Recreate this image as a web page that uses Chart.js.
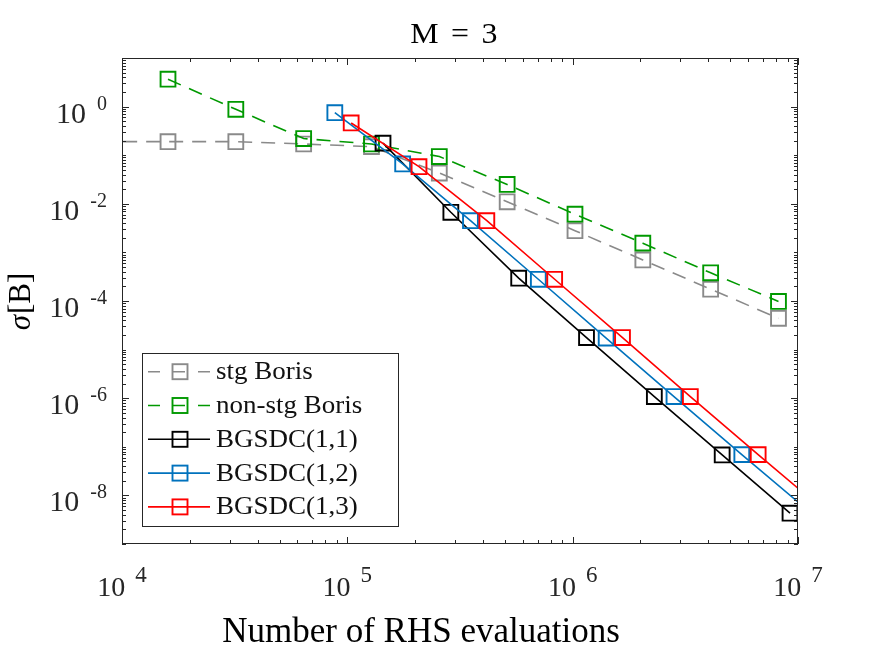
<!DOCTYPE html>
<html>
<head>
<meta charset="utf-8">
<script src="https://cdn.jsdelivr.net/npm/chart.js@4.4.0/dist/chart.umd.min.js"></script>
<style>
html, body { margin: 0; padding: 0; background: #fff; }
</style>
</head>
<body>
<canvas id="chart" width="875" height="657"></canvas>
<script>
// number of RHS evaluations and sigma[B] for each method
const stgX = [8000, 16000, 32000, 64000, 128000, 256000, 512000, 1024000, 2048000, 4096000, 8192000];
const stgY = [0.19, 0.19, 0.19, 0.17, 0.15, 0.043, 0.011, 0.0028, 7.0e-4, 1.75e-4, 4.4e-5];

const nonStgX = [16000, 32000, 64000, 128000, 256000, 512000, 1024000, 2048000, 4096000, 8192000];
const nonStgY = [3.66, 0.88, 0.22, 0.17, 0.094, 0.025, 0.0061, 1.55e-3, 3.8e-4, 9.8e-5];

const sdc11X = [144000, 288000, 576000, 1152000, 2304000, 4608000, 9216000];
const sdc11Y = [0.177, 0.0067, 2.95e-4, 1.77e-5, 1.08e-6, 6.8e-8, 4.3e-9];

const sdc12X = [88000, 176000, 352000, 704000, 1408000, 2816000, 5632000, 11264000];
const sdc12Y = [0.75, 0.066, 0.0045, 2.8e-4, 1.73e-5, 1.08e-6, 6.9e-8, 4.6e-9];

const sdc13X = [104000, 208000, 416000, 832000, 1664000, 3328000, 6656000, 13312000];
const sdc13Y = [0.46, 0.058, 0.0045, 2.8e-4, 1.77e-5, 1.08e-6, 6.9e-8, 4.6e-9];

const seriesNames = ["stg Boris", "non-stg Boris", "BGSDC(1,1)", "BGSDC(1,2)", "BGSDC(1,3)"];
const xTickExps = [4, 5, 6, 7];
const yTickExps = [0, -2, -4, -6, -8];

const AXIS = "#262626";
const SERIF = "'Liberation Serif', 'Times New Roman', serif";

function pts(xs, ys) {
    return xs.map((x, i) => ({ x: x, y: ys[i] }));
}

function makeSet(label, xs, ys, color, dashed, order) {
    return {
        label: label,
        data: pts(xs, ys),
        borderColor: color,
        borderWidth: 1.6,
        borderDash: dashed ? [14, 9] : [],
        pointStyle: "rect",
        pointRadius: 10.5,
        pointBorderWidth: 1.9,
        pointBorderColor: color,
        pointBackgroundColor: "rgba(0,0,0,0)",
        fill: false,
        tension: 0,
        order: order,
        clip: 0,
        dashed: dashed
    };
}

// text with optional letter spacing and horizontal stretch
function txt(ctx, s, x, y, font, align, spacing, stretch) {
    const sx = stretch || 1;
    ctx.font = font;
    ctx.letterSpacing = (spacing || 0) + "px";
    const w = ctx.measureText(s).width * sx;
    let x0 = x;
    if (align === "center") x0 = x - w / 2;
    else if (align === "right") x0 = x - w;
    ctx.textAlign = "left";
    ctx.save();
    ctx.translate(x0, y);
    ctx.scale(sx, 1);
    ctx.fillText(s, 0, 0);
    ctx.restore();
    ctx.letterSpacing = "0px";
    return w;
}

// axes box, inward ticks, tick labels, titles and legend, MATLAB style
const decorPlugin = {
    id: "decor",
    afterDatasetsDraw(chart) {
        const ctx = chart.ctx;
        const a = chart.chartArea;
        const xs = chart.scales.x, ys = chart.scales.y;
        ctx.save();
        ctx.strokeStyle = AXIS;
        ctx.fillStyle = AXIS;
        ctx.lineWidth = 1;
        ctx.setLineDash([]);

        // box
        ctx.strokeRect(a.left + 0.5, a.top + 0.5, a.right - a.left - 1, a.bottom - a.top - 1);

        // x ticks
        ctx.beginPath();
        for (let d = 4; d <= 7; d++) {
            for (let m = 1; m <= 9; m++) {
                const v = m * Math.pow(10, d);
                if (v > 1e7) break;
                const px = Math.round(xs.getPixelForValue(v)) + 0.5;
                const len = m === 1 ? 7 : 4;
                ctx.moveTo(px, a.bottom); ctx.lineTo(px, a.bottom - len);
                ctx.moveTo(px, a.top); ctx.lineTo(px, a.top + len);
            }
        }
        // y ticks
        for (let d = -9; d <= 1; d++) {
            for (let m = 1; m <= 9; m++) {
                const v = m * Math.pow(10, d);
                if (v > 10) break;
                const py = Math.round(ys.getPixelForValue(v)) + 0.5;
                const len = (m === 1 && d % 2 === 0) ? 7 : 4;
                ctx.moveTo(a.left, py); ctx.lineTo(a.left + len, py);
                ctx.moveTo(a.right, py); ctx.lineTo(a.right - len, py);
            }
        }
        ctx.stroke();

        // tick labels
        ctx.textBaseline = "alphabetic";
        ctx.fillStyle = AXIS;
        xTickExps.forEach(e => {
            const px = xs.getPixelForValue(Math.pow(10, e));
            ctx.font = "28px " + SERIF;
            const wb = ctx.measureText("10").width;
            ctx.font = "23px " + SERIF;
            const we = ctx.measureText(String(e)).width;
            const total = wb + 10 + we;
            const x0 = px - total / 2;
            txt(ctx, "10", x0, 596, "28px " + SERIF, "left");
            txt(ctx, String(e), x0 + wb + 10, 582, "23px " + SERIF, "left");
        });
        yTickExps.forEach(e => {
            const py = ys.getPixelForValue(Math.pow(10, e));
            const we = txt(ctx, String(e), 107, py + 3, "20px " + SERIF, "right");
            txt(ctx, "10", 107 - we - 11, py + 16, "30px " + SERIF, "right");
        });

        // title and axis titles
        ctx.fillStyle = "#000";
        txt(ctx, "M = 3", 455, 43, "29px " + SERIF, "center", 2, 1.1);
        txt(ctx, "Number of RHS evaluations", 421, 642, "35px " + SERIF, "center");

        ctx.save();
        ctx.translate(22, 302);
        ctx.rotate(-Math.PI / 2);
        ctx.textBaseline = "middle";
        ctx.font = "italic 31px " + SERIF;
        const ws = ctx.measureText("\u03c3").width;
        ctx.font = "31px " + SERIF;
        const wr = ctx.measureText("[B]").width;
        const sx = -(ws + wr) / 2;
        txt(ctx, "\u03c3", sx, 0, "italic 31px " + SERIF, "left");
        txt(ctx, "[B]", sx + ws + 1, 0, "31px " + SERIF, "left");
        ctx.restore();

        // legend
        const lx = 142, ly = 353, lw = 256, lh = 173;
        ctx.fillStyle = "#fff";
        ctx.fillRect(lx, ly, lw, lh);
        ctx.strokeStyle = AXIS;
        ctx.lineWidth = 1;
        ctx.strokeRect(lx + 0.5, ly + 0.5, lw, lh);
        chart.data.datasets.forEach((ds, i) => {
            const cy = 371.7 + i * 33.8;
            ctx.strokeStyle = ds.borderColor;
            ctx.lineWidth = 1.6;
            ctx.setLineDash(ds.dashed ? [12, 13] : []);
            ctx.beginPath();
            ctx.moveTo(148, cy); ctx.lineTo(210, cy);
            ctx.stroke();
            ctx.setLineDash([]);
            ctx.lineWidth = 1.9;
            ctx.strokeRect(180 - 7.5, cy - 7.5, 15, 15);
            ctx.fillStyle = "#111";
            ctx.textBaseline = "middle";
            txt(ctx, seriesNames[i], 216, cy + 1, "25px " + SERIF, "left", 0, 1.08);
        });
        ctx.restore();
    }
};

const chart = new Chart(document.getElementById("chart").getContext("2d"), {
    type: "line",
    data: {
        datasets: [
            makeSet(seriesNames[0], stgX, stgY, "#8a8a8a", true, 4),
            makeSet(seriesNames[1], nonStgX, nonStgY, "#009900", true, 3),
            makeSet(seriesNames[2], sdc11X, sdc11Y, "#000000", false, 2),
            makeSet(seriesNames[3], sdc12X, sdc12Y, "#0072bd", false, 1),
            makeSet(seriesNames[4], sdc13X, sdc13Y, "#ff0000", false, 0)
        ]
    },
    options: {
        responsive: false,
        animation: false,
        layout: { padding: { left: 122, right: 77, top: 58, bottom: 113 } },
        plugins: {
            legend: { display: false },
            tooltip: { enabled: false },
            title: { display: false }
        },
        scales: {
            x: { type: "logarithmic", min: 1e4, max: 1e7, display: false },
            y: { type: "logarithmic", min: 1e-9, max: 1e1, display: false }
        }
    },
    plugins: [decorPlugin]
});
</script>
</body>
</html>
